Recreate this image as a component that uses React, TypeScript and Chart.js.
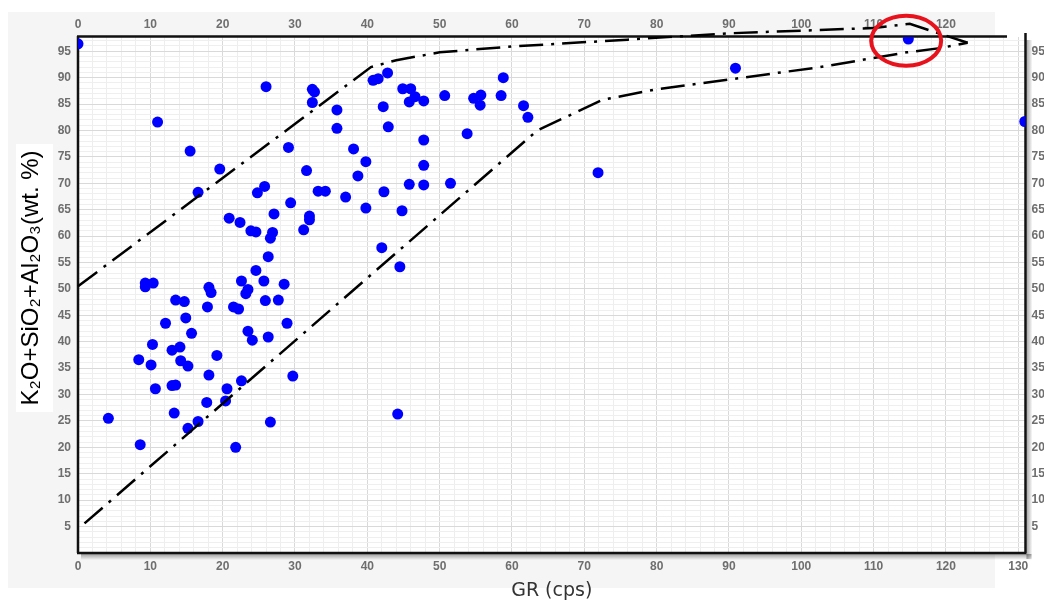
import React, { useEffect, useRef } from 'react';
import { Chart, registerables } from 'chart.js';

Chart.register(...registerables);

// ---- data ----
const grValues = [
  0, 26.0, 32.4, 32.7, 32.4, 11.0, 35.8, 35.8, 15.5, 29.1,
  38.1, 39.8, 19.6, 31.6, 38.7, 25.8, 24.8, 16.6, 33.2, 34.2,
  37.0, 39.8, 29.4, 27.1, 20.9, 22.4, 32.0, 32.0, 23.9, 24.6,
  26.9, 26.6, 31.2, 26.3, 24.6, 9.3, 9.3, 10.4, 22.6, 25.7,
  28.5, 23.5, 23.2, 18.1, 18.4, 13.5, 14.7, 17.9, 21.5, 22.2,
  25.9, 27.7, 12.1, 14.9, 28.9, 15.7, 23.5, 24.1, 26.3, 10.3,
  13.0, 14.1, 8.4, 10.1, 14.2, 15.2, 19.2, 18.1, 22.6, 29.7,
  10.7, 13.0, 13.5, 20.6, 20.4, 17.8, 13.3, 4.2, 16.6, 15.2,
  26.6, 8.6, 21.8, 42.8, 40.8, 41.5, 58.8, 44.9, 46.0, 46.6,
  45.8, 47.8, 50.7, 54.7, 55.7, 55.6, 58.5, 61.6, 62.2, 42.2,
  42.9, 47.8, 53.8, 47.8, 45.8, 47.8, 51.5, 42.3, 44.8, 71.9,
  42.0, 44.5, 44.2, 90.9, 114.8, 130.9,
];
const oxideValues = [
  96.4, 88.3, 87.8, 87.3, 85.3, 81.6, 83.9, 80.4, 76.1, 76.8,
  76.5, 74.1, 72.7, 72.4, 71.4, 69.4, 68.2, 68.3, 68.5, 68.5,
  67.4, 65.3, 66.3, 64.2, 63.4, 62.6, 63.8, 63.1, 61.0, 60.8,
  60.7, 59.6, 61.2, 56.1, 53.5, 51.1, 50.4, 51.1, 51.5, 51.5,
  50.9, 49.9, 49.1, 50.3, 49.3, 47.9, 47.6, 46.6, 46.6, 46.2,
  47.8, 47.9, 43.5, 44.5, 43.5, 41.6, 42.0, 40.3, 40.9, 39.5,
  38.4, 39.0, 36.6, 35.6, 36.4, 35.4, 37.4, 33.7, 32.6, 33.5,
  31.1, 31.7, 31.8, 31.1, 28.8, 28.5, 26.5, 25.5, 24.9, 23.6,
  24.8, 20.5, 20.0, 90.9, 89.5, 89.8, 90.0, 87.9, 87.9, 86.4,
  85.4, 85.6, 86.6, 86.1, 86.7, 84.8, 86.6, 84.7, 82.5, 84.5,
  80.7, 78.2, 79.4, 73.4, 69.8, 69.7, 70.0, 68.4, 64.8, 72.0,
  57.8, 54.2, 26.3, 91.8, 97.3, 81.7,
];

const upperGR = [0, 40.5, 44, 50, 60, 76, 90, 100, 110, 115, 123];
const upperOx = [50.5, 92.0, 93.3, 94.8, 95.9, 97.2, 98.4, 98.9, 99.4, 100.2, 96.6];
const lowerGR = [0.9, 63.5, 72.5, 80, 90.8, 102.6, 114.6, 119.2, 123];
const lowerOx = [5.6, 80.0, 85.8, 87.8, 89.8, 92.0, 94.8, 95.6, 96.6];

const bottomTickLabels = [0, 10, 20, 30, 40, 50, 60, 70, 80, 90, 100, 110, 120, 130];
const topTickLabels = [0, 10, 20, 30, 40, 50, 60, 70, 80, 90, 100, 110, 120];
const yTickLabels = [5, 10, 15, 20, 25, 30, 35, 40, 45, 50, 55, 60, 65, 70, 75, 80, 85, 90, 95];

const yTitle = 'K₂O+SiO₂+Al₂O₃(wt. %)';
const xTitle = 'GR (cps)';

const highlightGR = 114.5;
const highlightOx = 97;

const X_MIN = 0;
const X_MAX = 131;
const Y_MIN = 0;
const Y_MAX = 97.7;

const tickFont = { family: "'Liberation Sans', Arial, sans-serif", size: 12, weight: 'bold' as const };
const tickColor = '#6e6e6e';

const bgPlugin = {
  id: 'bgPlugin',
  beforeDraw(chart: any) {
    const ctx = chart.ctx;
    const { left, top, right, bottom } = chart.chartArea;
    ctx.save();
    ctx.fillStyle = '#ffffff';
    ctx.fillRect(0, 0, chart.width, chart.height);
    ctx.fillStyle = '#f5f5f5';
    ctx.fillRect(8, 12, 987, 576);
    ctx.fillStyle = '#ffffff';
    ctx.fillRect(16, 144, 37, 268);
    ctx.fillRect(left, top, right - left, bottom - top);
    ctx.restore();
  },
};

const yTitlePlugin = {
  id: 'yTitlePlugin',
  afterDraw(chart: any) {
    const ctx = chart.ctx;
    ctx.save();
    ctx.translate(31, 278);
    ctx.rotate(-Math.PI / 2);
    ctx.font = "24px 'Liberation Sans', Arial, sans-serif";
    ctx.fillStyle = '#000000';
    ctx.textAlign = 'center';
    ctx.textBaseline = 'middle';
    ctx.fillText(yTitle, 0, 0);
    ctx.restore();
  },
};

const framePlugin = {
  id: 'framePlugin',
  beforeDatasetsDraw(chart: any) {
    const ctx = chart.ctx;
    const { left, top, right, bottom } = chart.chartArea;
    ctx.save();
    const gb = ctx.createLinearGradient(0, bottom + 1, 0, bottom + 7);
    gb.addColorStop(0, 'rgba(0,0,0,0.35)');
    gb.addColorStop(1, 'rgba(0,0,0,0)');
    ctx.fillStyle = gb;
    ctx.fillRect(left + 3, bottom + 1, right - left + 3, 6);
    const gr = ctx.createLinearGradient(right + 1, 0, right + 7, 0);
    gr.addColorStop(0, 'rgba(0,0,0,0.35)');
    gr.addColorStop(1, 'rgba(0,0,0,0)');
    ctx.fillStyle = gr;
    ctx.fillRect(right + 1, top + 3, 6, bottom - top + 3);
    ctx.strokeStyle = '#111111';
    ctx.lineWidth = 2.5;
    ctx.beginPath();
    ctx.moveTo(left, top - 1);
    ctx.lineTo(left, bottom);
    ctx.moveTo(left - 1, top - 0.5);
    ctx.lineTo(1007, top - 0.5);
    ctx.moveTo(right, top - 4);
    ctx.lineTo(right, bottom);
    ctx.moveTo(left - 1, bottom);
    ctx.lineTo(right + 1, bottom);
    ctx.stroke();
    ctx.restore();
  },
  afterDraw(chart: any) {
    const ctx = chart.ctx;
    const xs = chart.scales.x;
    const ys = chart.scales.y;
    const cx = xs.getPixelForValue(highlightGR);
    const cy = ys.getPixelForValue(highlightOx);
    ctx.save();
    ctx.strokeStyle = '#e8121c';
    ctx.lineWidth = 4;
    ctx.beginPath();
    ctx.ellipse(cx, cy, 35, 25, 0, 0, Math.PI * 2);
    ctx.stroke();
    ctx.restore();
  },
};

export default function App() {
  const ref = useRef<HTMLCanvasElement>(null);

  useEffect(() => {
    const canvas = ref.current;
    if (!canvas) return;

    const points = grValues.map((x, i) => ({ x, y: oxideValues[i] }));
    const upper = upperGR.map((x, i) => ({ x, y: upperOx[i] }));
    const lower = lowerGR.map((x, i) => ({ x, y: lowerOx[i] }));

    const lineStyle = {
      showLine: true,
      borderColor: '#000000',
      backgroundColor: '#000000',
      borderWidth: 2.5,
      borderDash: [24, 8, 3, 8],
      pointRadius: 0,
      tension: 0,
      fill: false,
      clip: false as any,
    };

    const chart = new Chart(canvas, {
      type: 'scatter',
      data: {
        datasets: [
          {
            label: 'samples',
            data: points,
            backgroundColor: '#0000ff',
            borderColor: '#0000ff',
            pointRadius: 5.5,
            pointBorderWidth: 0,
            clip: 0 as any,
            order: 2,
          },
          { label: 'upper', data: upper, ...lineStyle, order: 1 } as any,
          { label: 'lower', data: lower, ...lineStyle, order: 1 } as any,
        ],
      },
      options: {
        responsive: false,
        maintainAspectRatio: false,
        animation: false,
        devicePixelRatio: 1,
        layout: { padding: 0 },
        plugins: {
          legend: { display: false },
          tooltip: { enabled: false },
        },
        scales: {
          x: {
            type: 'linear',
            position: 'bottom',
            min: X_MIN,
            max: X_MAX,
            border: { display: false },
            grid: {
              drawTicks: false,
              color: (c: any) => (c.tick && c.tick.value % 10 === 0 ? '#d9d9d9' : '#eeeeee'),
              lineWidth: 1,
            },
            ticks: {
              stepSize: 2,
              autoSkip: false,
              includeBounds: false,
              maxRotation: 0,
              padding: 6,
              color: tickColor,
              font: tickFont,
              callback: (v: any) => (bottomTickLabels.includes(Number(v)) ? String(v) : ''),
            },
            title: {
              display: true,
              text: xTitle,
              color: '#333333',
              font: { family: "'DejaVu Sans', Verdana, sans-serif", size: 19 },
              padding: { top: 0, bottom: 1 },
            },
            afterFit: (s: any) => { s.height = 50; },
          },
          x2: {
            type: 'linear',
            position: 'top',
            min: X_MIN,
            max: X_MAX,
            border: { display: false },
            grid: { display: false, drawTicks: false },
            ticks: {
              stepSize: 10,
              autoSkip: false,
              includeBounds: false,
              maxRotation: 0,
              padding: 5,
              color: tickColor,
              font: tickFont,
              callback: (v: any) => (topTickLabels.includes(Number(v)) ? String(v) : ''),
            },
            afterFit: (s: any) => { s.height = 37; },
          },
          y: {
            type: 'linear',
            position: 'left',
            min: Y_MIN,
            max: Y_MAX,
            border: { display: false },
            grid: {
              drawTicks: false,
              color: (c: any) => (c.tick && c.tick.value % 5 === 0 ? '#d9d9d9' : '#efefef'),
              lineWidth: 1,
            },
            ticks: {
              stepSize: 1,
              autoSkip: false,
              includeBounds: false,
              padding: 7,
              color: tickColor,
              font: tickFont,
              callback: (v: any) => (yTickLabels.includes(Number(v)) ? String(v) : ''),
            },
            title: { display: false },
            afterFit: (s: any) => { s.width = 78; },
          },
          y2: {
            type: 'linear',
            position: 'right',
            min: Y_MIN,
            max: Y_MAX,
            border: { display: false },
            grid: { display: false, drawTicks: false },
            ticks: {
              stepSize: 1,
              autoSkip: false,
              includeBounds: false,
              padding: 6,
              color: tickColor,
              font: tickFont,
              callback: (v: any) => (yTickLabels.includes(Number(v)) ? String(v) : ''),
            },
            afterFit: (s: any) => { s.width = 18.5; },
          },
        },
      } as any,
      plugins: [bgPlugin, framePlugin, yTitlePlugin],
    });

    return () => chart.destroy();
  }, []);

  return (
    <div style={{ position: 'fixed', left: 0, top: 0, width: 1044, height: 603, background: '#ffffff' }}>
      <canvas ref={ref} width={1044} height={603} style={{ display: 'block', width: 1044, height: 603 }} />
    </div>
  );
}
